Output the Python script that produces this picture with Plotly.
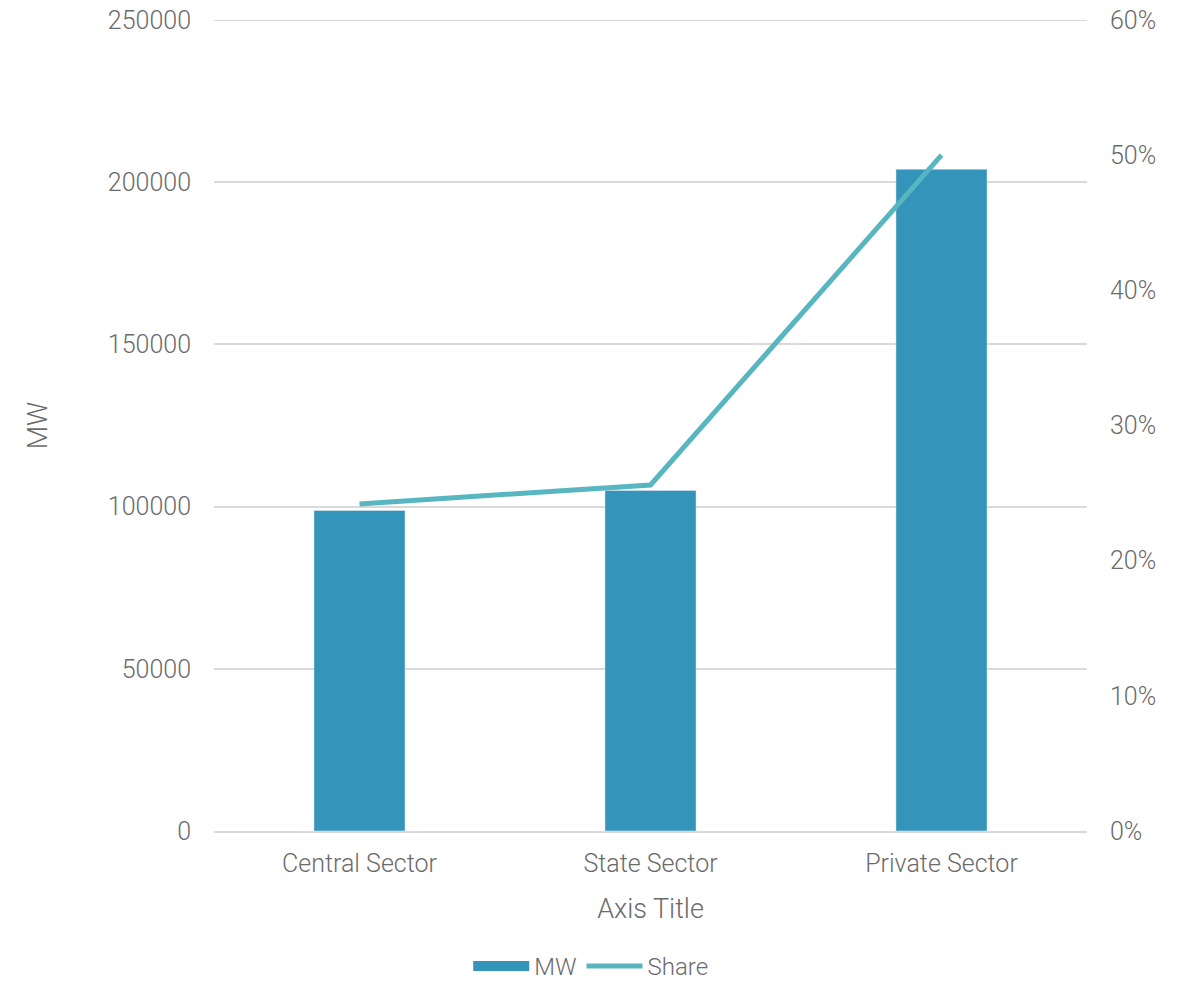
import plotly.graph_objects as go

categories = ["Central Sector", "State Sector", "Private Sector"]
mw_values = [98800, 105000, 204000]
share_values = [0.242, 0.256, 0.500]

bar_color = "#3494BA"
line_color = "#58B6C0"
text_color = "#6b6b6b"
grid_color = "#d9d9d9"
font_family = "Roboto, Noto Sans, sans-serif"

fig = go.Figure()
fig.add_trace(go.Bar(x=categories, y=mw_values, name="MW", marker_color=bar_color,
                     yaxis="y", showlegend=False))
# legend entry for bars drawn as a wide rectangle
fig.add_trace(go.Scatter(x=[None], y=[None], name="MW", mode="lines",
                         line=dict(color=bar_color, width=13), yaxis="y",
                         showlegend=True))
fig.add_trace(go.Scatter(x=categories, y=share_values, name="Share", mode="lines",
                         line=dict(color=line_color, width=5), yaxis="y2"))

# top gridline (plotly clips gridlines at the range end)
fig.add_shape(type="line", xref="paper", x0=0, x1=1, yref="y", y0=250000, y1=250000,
              line=dict(color=grid_color, width=2), layer="below")

fig.update_layout(
    width=1191, height=982,
    margin=dict(l=214, r=104, t=20, b=151, autoexpand=False),
    paper_bgcolor="white", plot_bgcolor="white",
    font=dict(family=font_family, size=24, color=text_color, weight=300),
    bargap=0.687,
    showlegend=True,
    legend=dict(orientation="h", xref="container", yref="container",
                x=0.496, xanchor="center", y=0.016, yanchor="middle",
                font=dict(size=24, color=text_color, weight=300),
                itemwidth=56, traceorder="normal"),
    xaxis=dict(
        title=dict(text="Axis Title", font=dict(size=27, color=text_color, weight=300),
                   standoff=22),
        showgrid=False, showline=True, linecolor=grid_color, linewidth=2,
        ticks="", tickfont=dict(size=25, color=text_color, weight=300),
        ticklabelstandoff=9, automargin=False,
    ),
    yaxis=dict(
        title=dict(text="MW", font=dict(size=27, color=text_color, weight=300),
                   standoff=52),
        range=[0, 250000], tickvals=[0, 50000, 100000, 150000, 200000, 250000],
        ticktext=["0", "50000", "100000", "150000", "200000", "250000"],
        showgrid=True, gridcolor=grid_color, gridwidth=2, zeroline=False,
        showline=False, ticks="", ticklabelstandoff=22, automargin=False,
        ticklabeloverflow="allow",
        tickfont=dict(size=25, color=text_color, weight=300),
    ),
    yaxis2=dict(
        overlaying="y", side="right", range=[0, 0.6], tickformat=".0%",
        tickvals=[0, 0.1, 0.2, 0.3, 0.4, 0.5, 0.6],
        showgrid=False, zeroline=False, showline=False, ticks="",
        ticklabelstandoff=22, automargin=False, ticklabeloverflow="allow",
        tickfont=dict(size=25, color=text_color, weight=300),
    ),
)

fig.write_html("out.html", config={"displayModeBar": False},
               post_script="document.body.style.margin='0';")
